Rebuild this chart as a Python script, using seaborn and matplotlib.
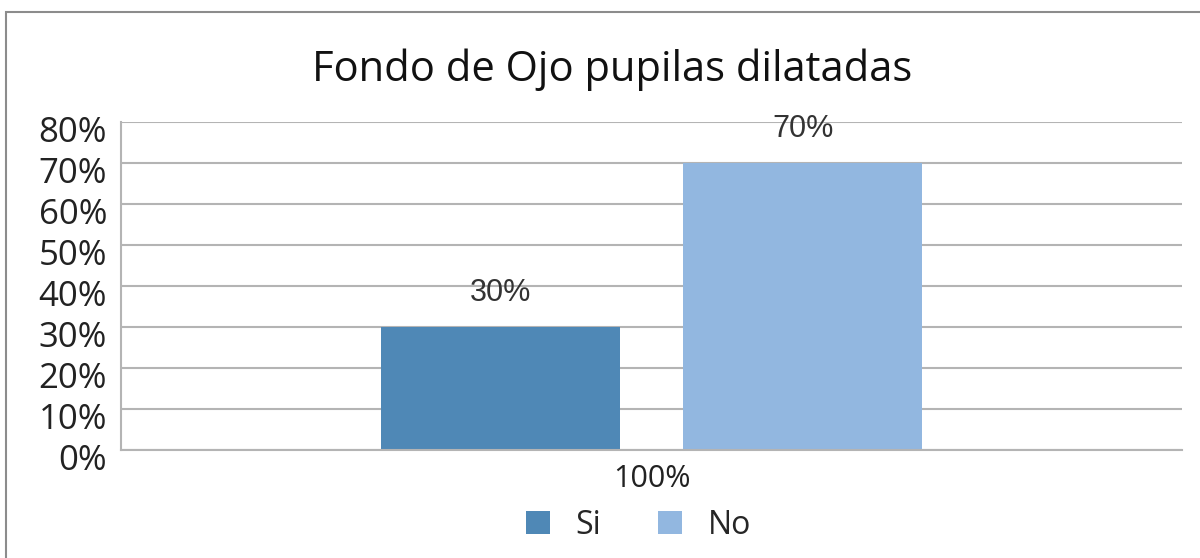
import pandas as pd
import seaborn as sns
import matplotlib.pyplot as plt
import matplotlib.transforms as mtransforms
from matplotlib.patches import Rectangle
from matplotlib.ticker import PercentFormatter

# Datos del gráfico
categoria = ["100%"]
respuestas = ["Si", "No"]
valores = [0.30, 0.70]
colores = ["#4F88B6", "#92B7E0"]

df = pd.DataFrame({
    "categoria": categoria * len(respuestas),
    "respuesta": respuestas,
    "valor": valores,
})

sns.set_style("white")
plt.rcParams["font.family"] = ["Open Sans", "DejaVu Sans"]

fig = plt.figure(figsize=(12, 5.58), dpi=100)
ax = fig.add_axes([0.1008, 0.1935, 0.8842, 0.5879])

sns.barplot(data=df, x="categoria", y="valor", hue="respuesta",
            palette=colores, saturation=1, width=0.57, gap=0.21,
            linewidth=0, edgecolor="none", ax=ax, legend=True)

ax.set_xlim(-0.5, 0.5)
ax.set_ylim(0, 0.8)
ax.set_yticks([i / 10 for i in range(9)])
ax.yaxis.set_major_formatter(PercentFormatter(1.0, decimals=0))
ax.grid(axis="y", color="#b4b4b4", linewidth=1.5)
ax.set_axisbelow(True)
ax.set_xlabel("")
ax.set_ylabel("")
ax.tick_params(axis="y", labelsize=25, length=0, pad=10, colors="#222222")
ax.tick_params(axis="x", labelsize=22, length=0, pad=10, colors="#222222")

# las etiquetas del eje y van un poco más abajo que la línea
desplazar = mtransforms.ScaledTranslation(0, -7 / 100, fig.dpi_scale_trans)
for lbl in ax.get_yticklabels():
    lbl.set_transform(lbl.get_transform() + desplazar)

for s in ["top", "right"]:
    ax.spines[s].set_visible(False)
for s in ["left", "bottom"]:
    ax.spines[s].set_color("#b4b4b4")
    ax.spines[s].set_linewidth(1.5)

# Etiquetas de datos
for cont in ax.containers:
    ax.bar_label(cont, labels=[f"{v:.0%}" for v in cont.datavalues],
                 padding=14, fontsize=22, color="#333333",
                 family=["Liberation Sans", "DejaVu Sans"])

ax.legend(loc="center", bbox_to_anchor=(0.532, 1 - 525 / 558),
          bbox_transform=fig.transFigure,
          ncol=2, frameon=False, fontsize=23, handlelength=0.75, handleheight=0.75,
          columnspacing=1.8, handletextpad=0.8)

fig.text(0.51, 1 - 70 / 558, "Fondo de Ojo pupilas dilatadas",
         ha="center", va="center", fontsize=30, color="#111111")

# Borde exterior del gráfico
fig.patches.append(Rectangle((0.005, -0.05), 1.1, 1 - 12 / 558 + 0.05,
                             transform=fig.transFigure, fill=False,
                             edgecolor="#8c8c8c", linewidth=1.5))

fig.savefig("out.png", dpi=100)
